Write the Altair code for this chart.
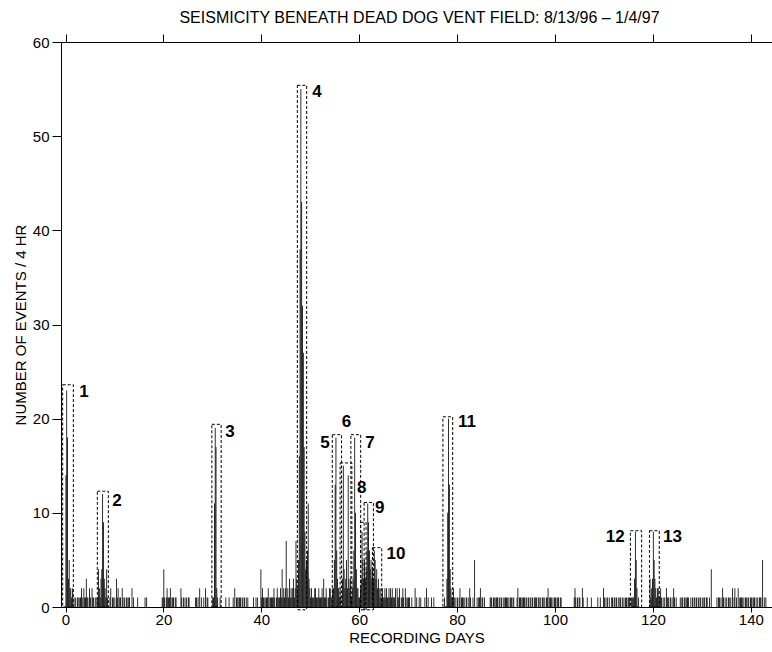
import altair as alt
import pandas as pd

BINS_PER_DAY = 6  # 4-hour bins

# Background event counts: one string per 10 days, one digit per 4-hr bin
# (days separated by spaces).
quiet_counts = [
    "000000 212010 101101 121021 131102 102110 101000 000000 000000 120110",
    "103120 110210 101101 100201 000010 000000 010100 000000 000000 000011",
    "410121 112011 101100 000210 101010 110000 000110 102010 010201 100000",
    "100000 100100 000010 001000 010201 101110 110101 010000 001001 010004",
    "121101 112011 111210 121112 141212 712131 212312 000000 000000 000000",
    "121112 211121 112131 121012 211200 000000 210000 000000 230000 000000",
    "000000 000000 000000 000000 000021 121211 212121 112021 120112 102101",
    "110010 002010 010100 001020 100010 010000 000000 001000 000000 121010",
    "101201 110101 010210 010500 101120 110100 000011 101101 110110 101011",
    "110101 101100 012011 101110 110101 101011 110110 101101 011201 110101",
    "101110 110000 000000 000001 210101 100210 000100 001000 000010 010002",
    "101010 100110 110101 011010 101101 110111 000000 100000 000000 003121",
    "000212 211210 101021 110101 021010 000101 101101 110010 101101 011010",
    "101101 100104 000000 101101 021010 101101 020120 102011 110101 101101",
    "110110 101011 105010 100000 000000 000000 000000 000000 000000 000000",
]

# Swarm episodes: index of the first 4-hr bin and the counts that follow
swarm_first_bin = [0, 39, 181, 282, 328, 339, 350, 358, 366, 374, 467, 696, 718]
swarm_counts = [
    [14, 23, 18, 3, 5, 2],
    [1, 4, 2, 1, 3, 4, 12, 9, 3, 2, 1, 4, 1],
    [1, 11, 19, 17, 2, 1],
    [7, 3, 2, 5, 16, 38, 55, 43, 32, 27, 17, 8, 4, 5, 6, 11, 3, 2],
    [2, 5, 13, 18, 6, 3, 2, 1],
    [3, 15, 4, 2, 3, 5, 2, 14, 3],
    [1, 2, 3, 6, 18, 10, 4, 2],
    [2, 1, 1, 2, 3, 8, 5, 3],
    [5, 3, 4, 6, 11, 9, 6, 4],
    [5, 3, 4, 3, 6, 5, 3, 4, 2, 3, 2, 1, 2, 1],
    [3, 10, 20, 13, 4, 2, 1],
    [1, 3, 8, 5, 2],
    [2, 3, 8, 5, 3],
]

# Dashed boxes outlining the numbered swarms (days / events per 4 hr)
box_label = ["1", "2", "3", "4", "5", "6", "7", "8", "9", "10", "11", "12", "13"]
box_left = [-0.58, 6.5, 29.9, 47.36, 54.5, 56.1, 58.3, 60.3, 61.0, 62.7, 77.1, 115.4, 119.3]
box_right = [1.6, 8.75, 31.8, 49.27, 56.4, 58.5, 60.3, 61.4, 62.9, 64.6, 79.1, 117.7, 121.3]
box_top = [23.6, 12.3, 19.4, 55.4, 18.3, 15.3, 18.3, 9.0, 11.1, 6.3, 20.2, 8.1, 8.1]
box_bottom = [0, 0, 0, -0.3, 0, 0, 0, -0.3, -0.3, 0, 0, 0, 0]
label_day = [3.8, 10.5, 33.6, 51.4, 53.0, 57.4, 62.2, 60.5, 64.2, 67.5, 82.0, 112.3, 124.0]
label_value = [22.8, 11.3, 18.6, 54.7, 17.4, 19.6, 17.4, 12.65, 10.5, 5.6, 19.6, 7.4, 7.4]

day_ticks = [0, 20, 40, 60, 80, 100, 120, 140]
count_ticks = [0, 10, 20, 30, 40, 50, 60]

# assemble the per-bin histogram
counts = [int(c) for block in quiet_counts for c in block.replace(" ", "")]
for first, seq in zip(swarm_first_bin, swarm_counts):
    for k, n in enumerate(seq):
        counts[first + k] = n

bins = pd.DataFrame({
    "start": [i / BINS_PER_DAY for i in range(len(counts))],
    "end": [(i + 1) / BINS_PER_DAY for i in range(len(counts))],
    "events": counts,
})
bins = bins[bins["events"] > 0]

boxes = pd.DataFrame({
    "label": box_label, "left": box_left, "right": box_right,
    "top": box_top, "bottom": box_bottom,
    "lx": label_day, "ly": label_value,
})

FONT = "Liberation Sans"
xs = alt.Scale(domain=[-0.92, 144.33], nice=False, zero=False)
ys = alt.Scale(domain=[0, 60], nice=False)

bars = alt.Chart(bins).mark_rect(color="black").encode(
    x=alt.X("start:Q", scale=xs, axis=alt.Axis(
        orient="bottom", values=day_ticks, tickSize=5, labelPadding=0,
        title="RECORDING DAYS", titlePadding=3, grid=False)),
    x2="end:Q",
    y=alt.Y("events:Q", scale=ys, axis=alt.Axis(
        orient="left", values=count_ticks, tickSize=9, labelPadding=3,
        title="NUMBER OF EVENTS / 4 HR", titlePadding=4, grid=False)),
    y2=alt.datum(0),
)

outlines = alt.Chart(boxes).mark_rect(
    fillOpacity=0, stroke="black", strokeWidth=1, strokeDash=[3, 2]
).encode(
    x=alt.X("left:Q", scale=xs, axis=alt.Axis(
        orient="top", values=day_ticks, labels=False, tickSize=8,
        title=None, grid=False)),
    x2="right:Q",
    y=alt.Y("top:Q", scale=ys, axis=None),
    y2="bottom:Q",
)

labels = alt.Chart(boxes).mark_text(
    font=FONT, fontSize=17, fontWeight="bold", color="black",
    align="center", baseline="middle"
).encode(
    x=alt.X("lx:Q", scale=xs, axis=None),
    y=alt.Y("ly:Q", scale=ys, axis=None),
    text="label:N",
)

chart = alt.layer(bars, outlines, labels).resolve_axis(
    x="independent", y="independent"
).properties(
    width=711,
    height=565,
    autosize="none",
    padding={"left": 61, "top": 42, "right": 0, "bottom": 45},
    title=alt.Title(
        "SEISMICITY BENEATH DEAD DOG VENT FIELD: 8/13/96 – 1/4/97",
        font=FONT, fontSize=16, fontWeight="normal", color="black",
        anchor="middle", offset=8, dx=3,
    ),
).configure_view(stroke=None).configure_axis(
    domainColor="black", tickColor="black", domainWidth=1, tickWidth=1,
    labelFont=FONT, labelFontSize=15, labelColor="black",
    titleFont=FONT, titleFontSize=15, titleFontWeight="normal", titleColor="black",
)

chart.save("out.html", embed_options={"renderer": "svg", "actions": False})
